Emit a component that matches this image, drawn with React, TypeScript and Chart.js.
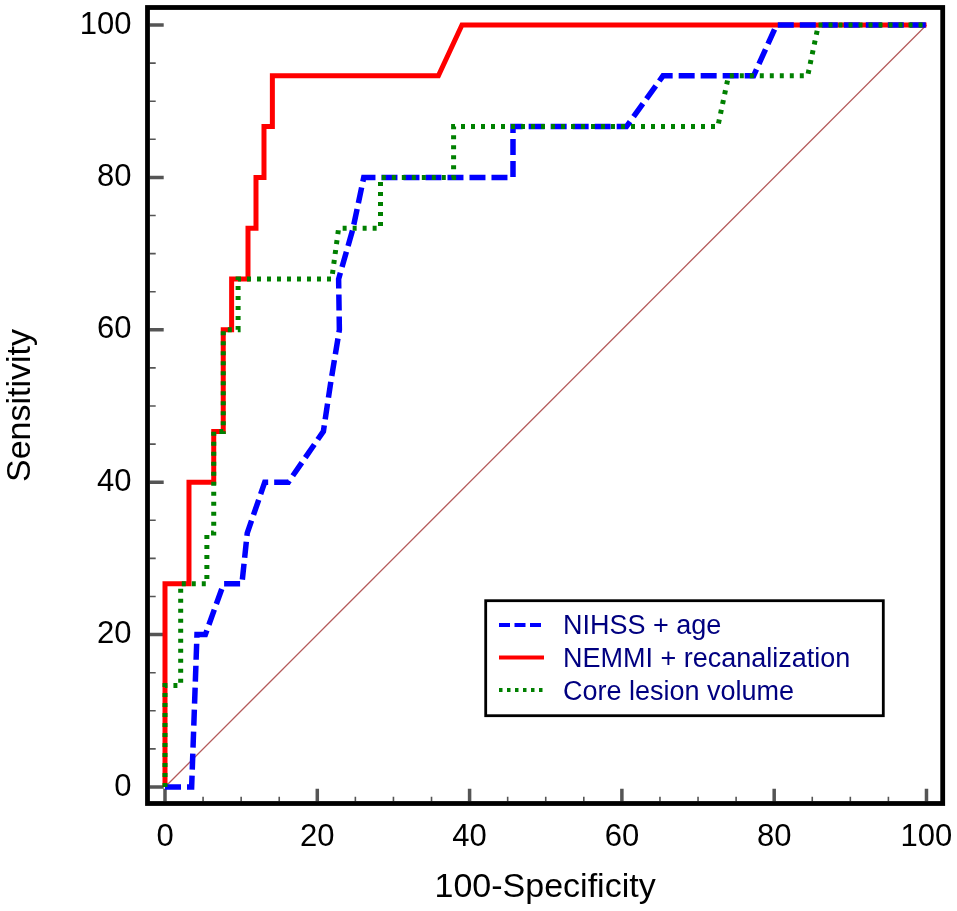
import React, { useEffect, useRef } from "react";
import { Chart, registerables } from "chart.js";

Chart.register(...registerables);

// ---- data ----
const xTickValues = [0, 20, 40, 60, 80, 100];
const yTickValues = [0, 20, 40, 60, 80, 100];
const minorTickValues = [5, 10, 15, 25, 30, 35, 45, 50, 55, 65, 70, 75, 85, 90, 95];

const seriesLabels = ["NIHSS + age", "NEMMI + recanalization", "Core lesion volume"];

const nihssFpr = [0, 3.5, 4.2, 5.3, 7.7, 10.1, 10.8, 13.1, 16.2, 20.8, 21.8, 22.9, 22.8, 24.7, 26.1, 45.7, 45.7, 60.6, 65.4, 77.3, 80.3, 100];
const nihssSens = [0, 0, 20, 20, 26.67, 26.67, 33.33, 40, 40, 46.67, 53.33, 60, 66.67, 73.33, 80, 80, 86.67, 86.67, 93.33, 93.33, 100, 100];

const nemmiFpr = [0, 0, 3.15, 3.15, 6.4, 6.4, 7.65, 7.65, 8.75, 8.75, 10.9, 10.9, 11.95, 11.95, 13.0, 13.0, 14.1, 14.1, 35.9, 39.0, 100];
const nemmiSens = [0, 26.67, 26.67, 40, 40, 46.67, 46.67, 60, 60, 66.67, 66.67, 73.33, 73.33, 80, 80, 86.67, 86.67, 93.33, 93.33, 100, 100];

const coreFpr = [0, 0, 2.06, 2.06, 5.5, 5.5, 6.4, 6.4, 7.65, 7.65, 9.6, 9.6, 21.9, 22.8, 28.3, 28.3, 37.9, 37.9, 72.6, 74.0, 84.4, 85.8, 100];
const coreSens = [0, 13.33, 13.33, 26.67, 26.67, 33.33, 33.33, 46.67, 46.67, 60, 60, 66.67, 66.67, 73.33, 73.33, 80, 80, 86.67, 86.67, 93.33, 93.33, 100, 100];

const refX = [0, 100];
const refY = [0, 100];

const toPoints = (xs: number[], ys: number[]) => xs.map((x, i) => ({ x, y: ys[i] }));

// ---- layout constants ----
const W = 957;
const H = 911;
const AREA_LEFT = 147.5;
const AREA_TOP = 7.5;
const AREA_RIGHT = 942.7;
const AREA_BOTTOM = 803.5;
const FONT = "'Liberation Sans', Arial, sans-serif";

const legendSamples = [
  { color: "#0000ff", dash: [11, 4.5] },
  { color: "#ff0000", dash: [] as number[] },
  { color: "#008000", dash: [3.5, 4.5] },
];

const zeroPadding = (scale: any) => {
  scale.paddingTop = 0;
  scale.paddingBottom = 0;
  scale.paddingLeft = 0;
  scale.paddingRight = 0;
};

const decorPlugin = {
  id: "decor",
  beforeDatasetsDraw(chart: any) {
    const { ctx, chartArea: a, scales } = chart;
    const xs = scales.x;
    const ys = scales.y;
    ctx.save();
    ctx.strokeStyle = "#555555";
    const innerLeft = a.left + 2.2;
    const innerBottom = a.bottom - 2.2;
    // major ticks
    ctx.lineWidth = 3.5;
    ctx.beginPath();
    for (const v of yTickValues) {
      const py = ys.getPixelForValue(v);
      ctx.moveTo(innerLeft, py);
      ctx.lineTo(innerLeft + 14, py);
    }
    for (const v of xTickValues) {
      const px = xs.getPixelForValue(v);
      ctx.moveTo(px, innerBottom);
      ctx.lineTo(px, innerBottom - 12.5);
    }
    ctx.stroke();
    // minor ticks
    ctx.lineWidth = 1.6;
    ctx.beginPath();
    for (const v of minorTickValues) {
      const py = ys.getPixelForValue(v);
      ctx.moveTo(innerLeft, py);
      ctx.lineTo(innerLeft + 6, py);
      const px = xs.getPixelForValue(v);
      ctx.moveTo(px, innerBottom);
      ctx.lineTo(px, innerBottom - 4.5);
    }
    ctx.stroke();
    ctx.restore();
  },
  afterDatasetsDraw(chart: any) {
    const { ctx, chartArea: a } = chart;
    ctx.save();
    // frame
    ctx.strokeStyle = "#000000";
    ctx.lineWidth = 4.8;
    ctx.strokeRect(a.left, a.top, a.right - a.left, a.bottom - a.top);
    // legend box
    ctx.lineWidth = 2.8;
    ctx.fillStyle = "#ffffff";
    ctx.fillRect(485.7, 600.7, 397.6, 115);
    ctx.strokeRect(485.7, 600.7, 397.6, 115);
    const rows = [625, 657.5, 690];
    const baselines = [634.4, 667, 699.5];
    ctx.font = `27px ${FONT}`;
    ctx.textBaseline = "alphabetic";
    ctx.textAlign = "left";
    for (let i = 0; i < seriesLabels.length; i++) {
      const s = legendSamples[i];
      ctx.strokeStyle = s.color;
      ctx.lineWidth = 4;
      ctx.lineCap = "butt";
      ctx.setLineDash(s.dash);
      ctx.beginPath();
      ctx.moveTo(499, rows[i]);
      ctx.lineTo(544, rows[i]);
      ctx.stroke();
      ctx.setLineDash([]);
      ctx.fillStyle = "#000080";
      ctx.fillText(seriesLabels[i], 563, baselines[i]);
    }
    ctx.restore();
  },
};

export default function App() {
  const canvasRef = useRef<HTMLCanvasElement | null>(null);

  useEffect(() => {
    const canvas = canvasRef.current;
    if (!canvas) return;
    const chart = new Chart(canvas, {
      type: "line",
      data: {
        datasets: [
          {
            label: seriesLabels[0],
            data: toPoints(nihssFpr, nihssSens),
            borderColor: "#0000ff",
            borderWidth: 5.5,
            borderDash: [16, 6],
            borderCapStyle: "butt",
            pointRadius: 0,
            tension: 0,
            fill: false,
            order: 1,
          },
          {
            label: seriesLabels[1],
            data: toPoints(nemmiFpr, nemmiSens),
            borderColor: "#ff0000",
            borderWidth: 5,
            pointRadius: 0,
            tension: 0,
            fill: false,
            order: 2,
          },
          {
            label: seriesLabels[2],
            data: toPoints(coreFpr, coreSens),
            borderColor: "#008000",
            borderWidth: 5,
            borderDash: [4, 6],
            borderCapStyle: "butt",
            pointRadius: 0,
            tension: 0,
            fill: false,
            order: 0,
          },
          {
            label: "reference",
            data: toPoints(refX, refY),
            borderColor: "#b45a5a",
            borderWidth: 1.2,
            pointRadius: 0,
            tension: 0,
            fill: false,
            order: 3,
          },
        ],
      },
      options: {
        responsive: false,
        maintainAspectRatio: false,
        animation: false,
        devicePixelRatio: 1,
        layout: {
          padding: { left: 0, top: AREA_TOP, right: W - AREA_RIGHT, bottom: 0 },
        },
        plugins: {
          legend: { display: false },
          tooltip: { enabled: false },
        },
        scales: {
          x: {
            type: "linear",
            min: -2.298,
            max: 102.13,
            grid: { display: false, drawTicks: false },
            border: { display: false },
            afterBuildTicks: (scale: any) => {
              scale.ticks = xTickValues.map((v) => ({ value: v }));
            },
            afterFit: (scale: any) => {
              scale.height = H - AREA_BOTTOM;
              zeroPadding(scale);
            },
            ticks: {
              padding: 15,
              color: "#000000",
              font: { family: FONT, size: 31 },
              maxRotation: 0,
              autoSkip: false,
              callback: (v: any) => String(v),
            },
            title: {
              display: true,
              text: "100-Specificity",
              color: "#000000",
              font: { family: FONT, size: 34, lineHeight: 1.2 },
              padding: { top: 0, bottom: 2.5 },
            },
          },
          y: {
            type: "linear",
            min: -2.165,
            max: 102.3,
            grid: { display: false, drawTicks: false },
            border: { display: false },
            afterBuildTicks: (scale: any) => {
              scale.ticks = yTickValues.map((v) => ({ value: v }));
            },
            afterFit: (scale: any) => {
              scale.width = AREA_LEFT;
              zeroPadding(scale);
            },
            ticks: {
              padding: 16,
              color: "#000000",
              font: { family: FONT, size: 31 },
              autoSkip: false,
              callback: (v: any) => String(v),
            },
            title: {
              display: true,
              text: "Sensitivity",
              color: "#000000",
              font: { family: FONT, size: 34, lineHeight: 1.2 },
              padding: { top: 0, bottom: 0 },
            },
          },
        },
      },
      plugins: [decorPlugin],
    });
    return () => chart.destroy();
  }, []);

  return (
    <div style={{ position: "absolute", left: 0, top: 0, width: W, height: H, background: "#ffffff" }}>
      <canvas ref={canvasRef} width={W} height={H} style={{ display: "block", width: W, height: H }} />
    </div>
  );
}
